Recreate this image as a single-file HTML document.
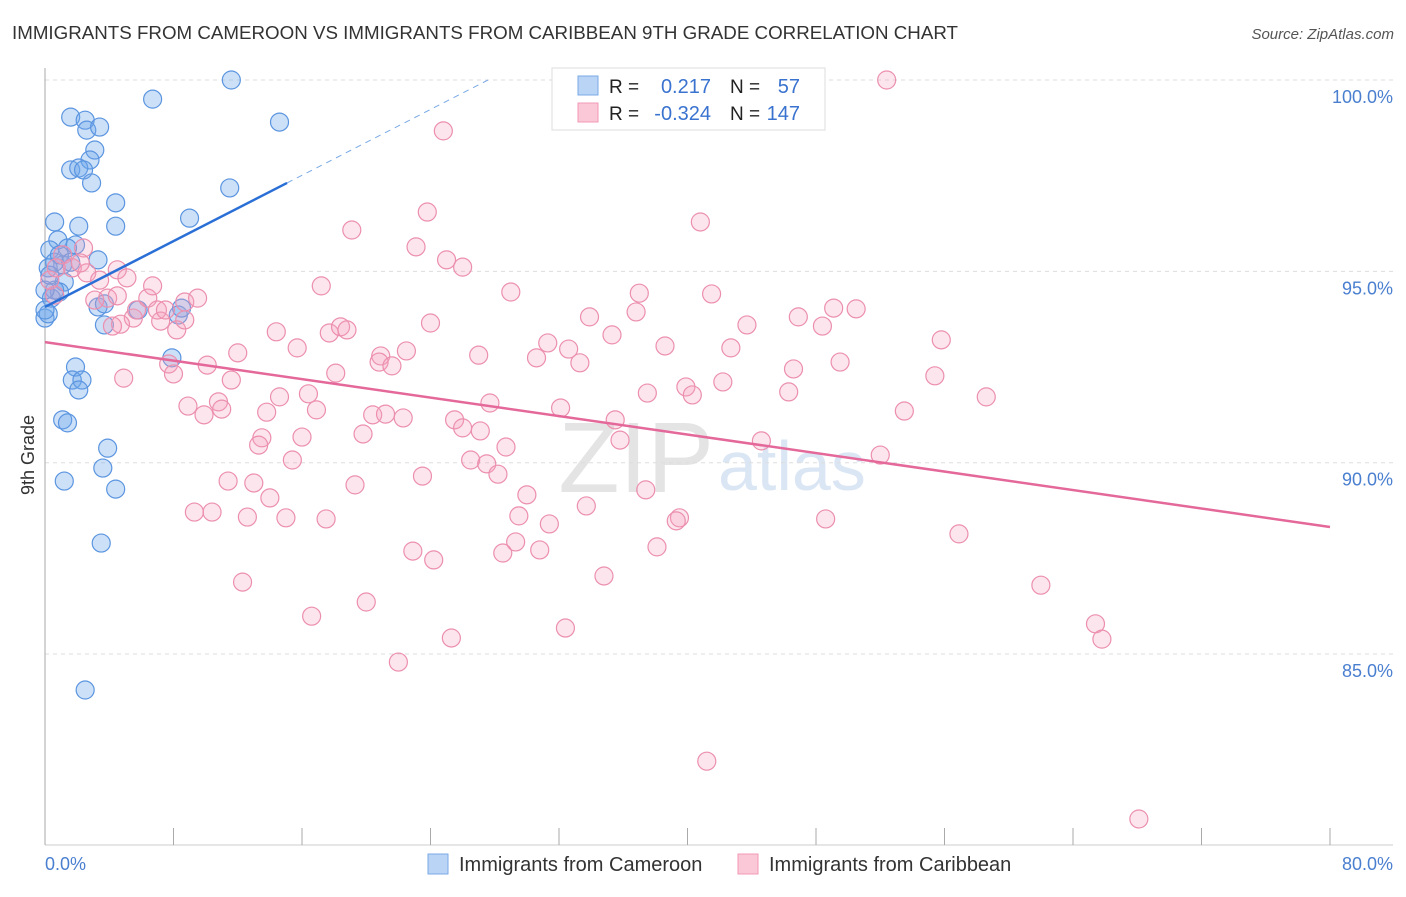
<!DOCTYPE html>
<html><head><meta charset="utf-8"><style>
body{margin:0;background:#fff;font-family:"Liberation Sans",sans-serif}
svg text{font-family:"Liberation Sans",sans-serif}
</style></head><body>
<svg id="c" width="1406" height="892" xmlns="http://www.w3.org/2000/svg">
<text x="12" y="39" font-size="18.5" fill="#333" textLength="946" lengthAdjust="spacingAndGlyphs">IMMIGRANTS FROM CAMEROON VS IMMIGRANTS FROM CARIBBEAN 9TH GRADE CORRELATION CHART</text>
<text x="1394" y="39" font-size="15" fill="#555" text-anchor="end" font-style="italic">Source: ZipAtlas.com</text>
<text x="714" y="492" font-size="100" fill="#e4e4e4" text-anchor="end" font-family="Liberation Serif">ZIP</text>
<text x="718" y="490" font-size="70" fill="#dbe6f5">atlas</text>
<g id="grid"></g><g id="axes"></g>
<g id="blue"></g><g id="pink"></g><g id="lines"></g>
<text transform="translate(34,455) rotate(-90)" font-size="18" fill="#333" text-anchor="middle">9th Grade</text>
<text x="45" y="870" font-size="18" fill="#4a7fd0">0.0%</text>
<text x="1393" y="870" font-size="18" fill="#4a7fd0" text-anchor="end">80.0%</text>
<g>
<rect x="552" y="68" width="273" height="62" fill="#fff" stroke="#ddd"/>
<rect x="578" y="76" width="20" height="19" fill="#b9d4f5" stroke="#7aa9e6"/>
<rect x="578" y="103" width="20" height="19" fill="#fbc8d8" stroke="#f09ab6"/>
<text x="609" y="93" font-size="19" fill="#222">R =</text><text x="711" y="93" font-size="20" fill="#3a73cf" text-anchor="end">0.217</text>
<text x="730" y="93" font-size="19" fill="#222">N =</text><text x="800" y="93" font-size="20" fill="#3a73cf" text-anchor="end">57</text>
<text x="609" y="120" font-size="19" fill="#222">R =</text><text x="711" y="120" font-size="20" fill="#3a73cf" text-anchor="end">-0.324</text>
<text x="730" y="120" font-size="19" fill="#222">N =</text><text x="800" y="120" font-size="20" fill="#3a73cf" text-anchor="end">147</text>
</g>
<g>
<rect x="428" y="854" width="20" height="20" fill="#b9d4f5" stroke="#7aa9e6"/>
<text x="459" y="871" font-size="20" fill="#333">Immigrants from Cameroon</text>
<rect x="738" y="854" width="20" height="20" fill="#fbc8d8" stroke="#f09ab6"/>
<text x="769" y="871" font-size="20" fill="#333">Immigrants from Caribbean</text>
</g>
</svg>
<script>
const yTicks=[100,95,90,85];
const yTickLabels=["100.0%","95.0%","90.0%","85.0%"];
const xTicks=[0,8,16,24,32,40,48,56,64,72,80];
const blueX=[11.6,6.7,1.6,2.5,2.6,3.4,14.6,3.1,2.8,1.6,2.1,2.4,2.9,11.5,4.4,0.6,2.1,4.4,9.0,0.8,0.3,1.9,1.4,3.3,1.1,0.2,0.6,1.2,0.9,0.4,0.0,0.2,3.3,3.7,8.3,5.8,3.7,8.5,7.9,1.9,1.7,2.3,2.1,1.1,1.4,3.9,3.6,1.2,4.4,3.5,2.5,0.6,0.0,0.3,0.9,1.6,0.0];
const blueY=[100.0,99.5,99.03,98.95,98.69,98.77,98.90,98.17,97.91,97.65,97.70,97.65,97.31,97.18,96.79,96.29,96.18,96.18,96.39,95.82,95.56,95.69,95.61,95.30,95.17,95.09,95.24,94.72,94.46,94.30,93.78,93.89,94.07,94.15,93.86,93.99,93.60,94.04,92.74,92.50,92.16,92.16,91.90,91.12,91.04,90.38,89.86,89.52,89.31,87.90,84.06,94.51,94.51,94.90,95.43,95.24,93.99];
const pinkX=[52.4,24.8,40.8,23.8,19.1,23.1,25.0,26.0,29.0,37.0,41.5,17.2,33.9,36.8,43.7,46.9,49.1,50.5,48.4,55.8,24.0,14.4,17.7,18.4,18.8,15.7,12.0,20.9,22.5,20.8,21.6,18.1,31.3,32.6,35.3,38.6,42.7,30.6,27.0,33.3,46.6,49.5,55.4,10.1,11.6,16.4,14.6,13.8,16.9,20.4,21.2,22.3,27.7,32.1,35.5,37.5,39.9,40.3,42.2,46.3,53.5,58.6,8.9,9.9,10.8,11.0,13.5,13.3,16.0,19.8,25.5,26.0,27.1,28.7,35.8,44.6,52.0,15.4,26.5,27.5,28.2,23.5,11.4,13.0,14.0,19.3,30.0,37.4,9.3,10.4,12.6,15.0,17.5,29.5,31.4,33.7,39.5,39.3,48.6,56.9,22.9,24.2,28.5,30.8,29.3,38.1,12.3,34.8,62.0,16.6,20.0,25.3,32.4,22.0,65.4,65.8,41.2,68.1,4.5,5.1,2.4,1.1,1.7,2.6,3.4,3.9,3.1,4.5,5.5,5.7,6.4,6.7,7.2,8.2,7.0,7.5,8.7,9.5,8.7,4.7,4.2,4.9,7.7,8.0,0.6,0.3,0.7,2.2];
const pinkY=[100.0,98.67,96.29,96.55,96.08,95.64,95.30,95.11,94.46,94.43,94.41,94.62,93.81,93.94,93.60,93.81,94.04,94.02,93.57,93.21,93.65,93.42,93.39,93.55,93.47,93.00,92.87,92.79,92.92,92.63,92.53,92.34,93.13,92.97,93.34,93.05,93.00,92.74,92.81,92.61,92.45,92.63,92.27,92.55,92.16,91.80,91.72,91.32,91.38,91.25,91.27,91.17,91.56,91.43,91.12,91.82,91.98,91.77,92.11,91.85,91.35,91.72,91.48,91.25,91.59,91.40,90.65,90.46,90.67,90.75,91.12,90.91,90.83,90.41,90.59,90.57,90.20,90.07,90.07,89.97,89.70,89.65,89.52,89.47,89.08,89.42,89.16,89.29,88.71,88.71,88.58,88.56,88.53,88.61,88.40,88.87,88.56,88.48,88.53,88.14,87.69,87.46,87.64,87.72,87.93,87.80,86.88,87.04,86.80,85.99,86.36,85.42,85.68,84.79,85.79,85.39,82.20,80.69,95.04,94.83,95.61,95.43,95.09,94.96,94.77,94.30,94.25,94.36,93.78,93.99,94.30,94.62,93.70,93.47,93.99,93.99,94.20,94.30,93.73,93.62,93.57,92.21,92.58,92.32,94.38,94.77,95.09,95.22];
const blueTrend=[0,94.07,15.07,97.31];
const pinkTrend=[0,93.15,80,88.32];
const NS="http://www.w3.org/2000/svg";
const sx=v=>45+v*1285/80, sy=v=>80+(100-v)*38.27;
function mk(p,t,a){const e=document.createElementNS(NS,t);for(const k in a)e.setAttribute(k,a[k]);document.getElementById(p).appendChild(e);return e;}
yTicks.forEach((t,i)=>{const l=mk('grid','line',{x1:45,x2:1393,y1:sy(t),y2:sy(t),stroke:'#ddd','stroke-dasharray':'4,4'});


const tx=mk('grid','text',{x:1393,y:sy(t)+23,'font-size':18,fill:'#4a7fd0','text-anchor':'end'});tx.textContent=yTickLabels[i];

});
const ax=mk('axes','line',{x1:45,x2:45,y1:68,y2:845,stroke:'#aaa'});


const bx=mk('axes','line',{x1:45,x2:1393,y1:845,y2:845,stroke:'#ccc'});


xTicks.forEach(t=>{const l=mk('axes','line',{x1:sx(t),x2:sx(t),y1:828,y2:845,stroke:'#aaa'});

});
blueX.forEach((v,i)=>{const c=mk('blue','circle',{cx:sx(v),cy:sy(blueY[i]),r:9,fill:'rgba(110,165,235,0.35)',stroke:'#5b95e0','stroke-width':1.2});

});
pinkX.forEach((v,i)=>{const c=mk('pink','circle',{cx:sx(v),cy:sy(pinkY[i]),r:9,fill:'rgba(245,160,190,0.28)',stroke:'#ec8fae','stroke-width':1.2});

});
const slope=(blueTrend[3]-blueTrend[1])/(blueTrend[2]-blueTrend[0]);
const bl=mk('lines','line',{x1:sx(blueTrend[0]),y1:sy(blueTrend[1]),x2:sx(blueTrend[2]),y2:sy(blueTrend[3]),stroke:'#2a6fd6','stroke-width':2.5});


const xe=(100-blueTrend[1])/slope;
const bd=mk('lines','line',{x1:sx(blueTrend[2]),y1:sy(blueTrend[3]),x2:sx(xe),y2:sy(100),stroke:'#7aa9e6','stroke-width':1,'stroke-dasharray':'6,5'});


const pl=mk('lines','line',{x1:sx(pinkTrend[0]),y1:sy(pinkTrend[1]),x2:sx(pinkTrend[2]),y2:sy(pinkTrend[3]),stroke:'#e4689a','stroke-width':2.5});


</script>
</body></html>
